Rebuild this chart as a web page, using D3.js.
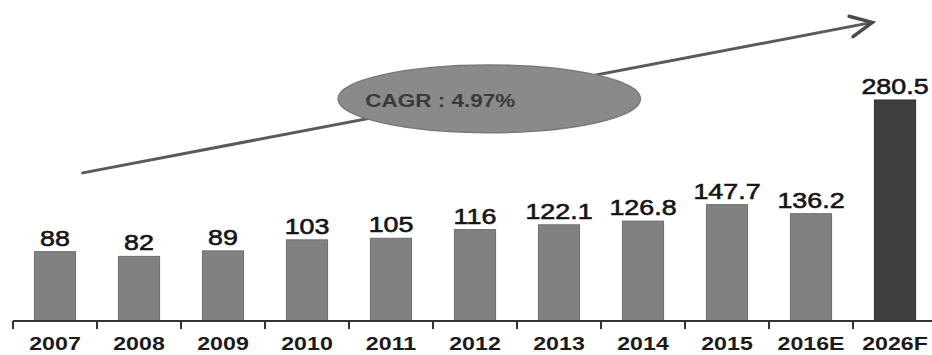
<!DOCTYPE html>
<html>
<head>
<meta charset="utf-8">
<script src="https://cdn.jsdelivr.net/npm/d3@7"></script>
<style>
  html, body { margin: 0; padding: 0; background: #fff; }
  svg { display: block; }
  text { font-family: "Liberation Sans", Arial, sans-serif; }
</style>
</head>
<body>
<svg id="chart" width="932" height="355"></svg>
<script>
// ---- data ----
const categories = ["2007","2008","2009","2010","2011","2012","2013","2014","2015","2016E","2026F"];
const values = [88, 82, 89, 103, 105, 116, 122.1, 126.8, 147.7, 136.2, 280.5];
const valueLabels = ["88","82","89","103","105","116","122.1","126.8","147.7","136.2","280.5"];
const forecastCategory = "2026F";
const cagrLabel = "CAGR : 4.97%";
// annotation (in category-index / value units)
const arrowStart = [0.83, 188];
const arrowEnd = [10.23, 379];
const ellipseCenter = [5.67, 282];
const ellipseRadii = [1.8, 43];

// ---- layout ----
const W = 932, H = 355;
const left = 13, step = 84;
const baseline = 321, topY = 100;
const svg = d3.select("#chart");

const x = d3.scaleBand().domain(categories)
  .range([left, left + step * categories.length])
  .paddingInner(0.51).paddingOuter(0.255);
const idx = d3.scaleLinear().domain([0, categories.length]).range([left, left + step * categories.length]);
const y = d3.scaleLinear().domain([0, 280.5]).range([baseline, topY]);

const STRETCH = 1.22;

// ---- arrow + ellipse (behind) ----
const ax1 = idx(arrowStart[0]), ay1 = y(arrowStart[1]);
const ax2 = idx(arrowEnd[0]), ay2 = y(arrowEnd[1]);
svg.append("line")
  .attr("x1", ax1).attr("y1", ay1).attr("x2", ax2).attr("y2", ay2)
  .attr("stroke", "#5a5a5a").attr("stroke-width", 3).attr("stroke-linecap", "round");
const ang = Math.atan2(ay2 - ay1, ax2 - ax1);
const headLen = 24, headAng = 0.45;
const hp = [ang + Math.PI - headAng, ang + Math.PI + headAng].map(a => [ax2 + headLen * Math.cos(a), ay2 + headLen * Math.sin(a)]);
svg.append("path")
  .attr("d", `M${hp[0][0]},${hp[0][1]}L${ax2},${ay2}L${hp[1][0]},${hp[1][1]}`)
  .attr("fill", "none").attr("stroke", "#4a4a4a").attr("stroke-width", 3.5)
  .attr("stroke-linecap", "round").attr("stroke-linejoin", "miter");

const ecx = idx(ellipseCenter[0]), ecy = y(ellipseCenter[1]);
const erx = idx(ellipseRadii[0]) - idx(0), ery = y(0) - y(ellipseRadii[1]);
svg.append("ellipse")
  .attr("cx", ecx).attr("cy", ecy).attr("rx", erx).attr("ry", ery)
  .attr("fill", "#8a8a8a").attr("stroke", "#7a7a7a").attr("stroke-width", 1.5);
svg.append("text")
  .attr("transform", `translate(${ecx - 49},${ecy + 8}) scale(1.25,1)`)
  .attr("text-anchor", "middle")
  .attr("font-size", 18).attr("font-weight", "bold").attr("fill", "#3a3a3a")
  .text(cagrLabel);

// ---- bars ----
svg.append("g").selectAll("rect").data(categories).join("rect")
  .attr("x", d => x(d))
  .attr("width", x.bandwidth())
  .attr("y", (d, i) => y(values[i]))
  .attr("height", (d, i) => baseline - y(values[i]))
  .attr("fill", d => d === forecastCategory ? "#3e3e3e" : "#818181")
  .attr("stroke", d => d === forecastCategory ? "#2e2e2e" : "#6e6e6e")
  .attr("stroke-width", 1);

// value labels
svg.append("g").selectAll("text").data(categories).join("text")
  .attr("transform", (d, i) => `translate(${x(d) + x.bandwidth() / 2},${y(values[i]) - 6}) scale(${STRETCH},1)`)
  .attr("text-anchor", "middle")
  .attr("font-size", 22).attr("font-weight", "normal").attr("fill", "#151515")
  .attr("stroke", "#151515").attr("stroke-width", 0.6)
  .text((d, i) => valueLabels[i]);

// ---- axis ----
const axis = svg.append("g");
axis.append("line")
  .attr("x1", idx(0)).attr("x2", W + 10)
  .attr("y1", baseline).attr("y2", baseline)
  .attr("stroke", "#333").attr("stroke-width", 2);
axis.selectAll("line.tick").data(d3.range(categories.length + 1)).join("line")
  .attr("class", "tick")
  .attr("x1", i => idx(i)).attr("x2", i => idx(i))
  .attr("y1", baseline).attr("y2", baseline + 8)
  .attr("stroke", "#333").attr("stroke-width", 2);
axis.selectAll("text").data(categories).join("text")
  .attr("transform", d => `translate(${x(d) + x.bandwidth() / 2},350) scale(${STRETCH},1)`)
  .attr("text-anchor", "middle")
  .attr("font-size", 19).attr("font-weight", "bold").attr("fill", "#1a1a1a")
  .text(d => d);
</script>
</body>
</html>
